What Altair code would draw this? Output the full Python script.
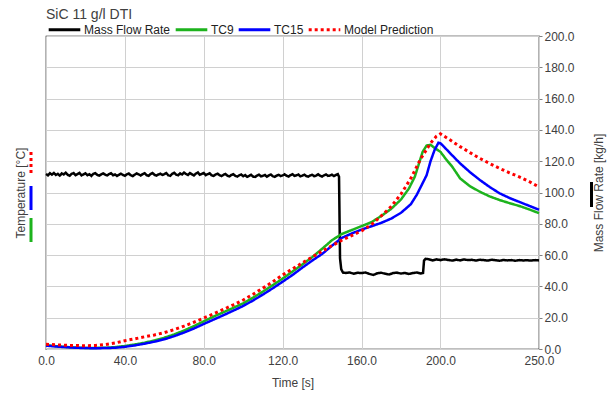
import altair as alt
import pandas as pd

FONT = "Liberation Sans"
series_names = ["Mass Flow Rate", "TC9", "TC15", "Model Prediction"]
series_colors = ["#000000", "#1db31d", "#0000ff", "#ff0000"]
series_dashes = [[1, 0], [1, 0], [1, 0], [3, 3]]

# ---- Mass flow rate [kg/h] ----
mf_t = list(range(0, 149, 1)) + [148.6, 149.1, 149.7, 150.6] + list(range(152, 192, 2)) + \
       [191.2, 191.7, 192.5] + list(range(194, 252, 2))
mf_v = [
    111.8, 111.0, 112.3, 111.4, 112.5, 111.2, 111.9, 110.8, 112.2, 111.5,
    112.6, 111.3, 110.7, 111.9, 112.4, 111.1, 111.8, 112.5, 110.9, 111.6,
    112.3, 111.0, 111.7, 110.6, 111.9, 112.4, 111.2, 110.8, 111.6, 112.2,
    111.4, 110.9, 111.8, 112.3, 111.0, 111.5, 110.6, 111.3, 112.0, 111.2,
    110.7, 111.6, 112.1, 111.0, 110.5, 111.4, 112.2, 111.6, 110.9, 111.7,
    112.3, 111.1, 110.6, 111.8, 112.5, 111.3, 110.8, 111.5, 112.0, 111.2,
    111.7, 112.4, 111.0, 110.7, 111.9, 112.6, 111.4, 111.0, 112.2, 111.5,
    112.7, 111.8, 111.2, 112.4, 111.6, 110.9, 112.1, 112.8, 111.3, 111.9,
    112.5, 111.1, 111.7, 112.3, 111.0, 110.6, 111.5, 112.0, 111.1, 110.5,
    111.3, 111.9, 110.7, 110.3, 111.2, 111.7, 110.6, 110.2, 111.0, 111.5,
    110.4, 111.1, 110.0, 110.6, 111.3, 110.2, 109.9, 110.8, 111.4, 110.3,
    110.7, 111.2, 110.1, 110.9, 111.5, 110.4, 110.0, 110.8, 111.3, 110.5,
    110.9, 111.6, 110.7, 110.2, 111.1, 111.7, 110.6, 111.0, 111.5, 110.3,
    110.8, 111.4, 110.5, 110.1, 110.9, 111.3, 110.4, 110.8, 111.6, 110.7,
    110.2, 111.0, 111.5, 110.6, 110.9, 111.4, 110.5, 111.2, 111.7,
    110.0, 58.0, 51.0, 48.8,
    48.6, 48.9, 48.1, 48.7, 48.5, 48.9, 48.0, 47.3, 48.4, 48.7,
    48.1, 47.6, 48.5, 48.8, 48.2, 48.6, 48.0, 48.5, 48.9, 48.3,
    48.6, 56.5, 57.6,
    57.4, 56.6, 57.3, 56.8, 57.3, 56.9, 56.5, 57.1, 56.6, 57.2,
    56.8, 57.0, 56.5, 57.0, 56.8, 56.5, 57.0, 56.7, 56.4, 56.9,
    56.6, 56.8, 56.4, 56.8, 56.6, 56.7, 56.5, 56.8, 56.6,
]

# ---- TC9 (green) ----
tc9_t = [0, 5, 10, 15, 20, 25, 30, 35, 40, 45, 50, 55, 60, 65, 70, 75, 80, 85, 90, 95,
         100, 105, 110, 115, 120, 125, 130, 135, 140, 145, 150, 155, 160, 165, 170, 175,
         180, 184, 187, 189, 191, 193, 195, 197, 200, 203, 206, 210, 215, 220, 225, 230,
         235, 240, 245, 250]
tc9_v = [2.5, 1.8, 1.3, 0.9, 0.7, 0.7, 0.8, 1.2, 1.9, 2.9, 4.0, 5.5, 7.2, 9.3, 11.8, 14.6,
         17.7, 20.7, 23.5, 26.3, 29.2, 32.8, 36.7, 40.8, 45.0, 49.5, 54.0, 58.7, 64.0, 69.5,
         73.5, 76.0, 78.5, 81.0, 85.0, 89.5, 95.5, 102.5, 110.0, 118.0, 126.0, 130.0, 130.5,
         128.5, 126.0, 121.0, 116.5, 109.0, 104.0, 100.5, 97.5, 95.2, 93.2, 91.4, 89.2, 86.8]

# ---- TC15 (blue) ----
tc15_t = [0, 5, 10, 15, 20, 25, 30, 35, 40, 45, 50, 55, 60, 65, 70, 75, 80, 85, 90, 95,
          100, 105, 110, 115, 120, 125, 130, 135, 140, 145, 150, 155, 160, 165, 170, 175,
          180, 185, 188, 191, 193, 195, 197, 199, 200, 202, 205, 210, 215, 220, 225, 230,
          235, 240, 245, 250]
tc15_v = [2.1, 1.6, 1.2, 0.8, 0.6, 0.5, 0.6, 0.8, 1.4, 2.3, 3.4, 4.7, 6.2, 8.2, 10.5, 13.1,
          16.0, 18.8, 21.6, 24.5, 27.5, 31.0, 34.8, 38.8, 43.0, 47.3, 52.0, 56.5, 60.7, 66.0,
          71.0, 73.8, 76.3, 78.4, 80.6, 83.3, 87.0, 92.5, 98.5, 106.0, 111.0, 120.0, 127.0,
          131.8, 131.5, 129.0, 125.0, 118.6, 113.0, 108.0, 103.5, 99.5, 96.5, 94.0, 91.5, 89.0]

# ---- Model prediction (red dotted) ----
mp_t = [0, 5, 10, 15, 20, 25, 30, 35, 40, 45, 50, 55, 60, 65, 70, 75, 80, 85, 90, 95,
        100, 105, 110, 115, 120, 125, 130, 135, 140, 145, 150, 155, 160, 165, 170, 175,
        180, 185, 190, 195, 198, 200, 205, 210, 215, 220, 225, 230, 235, 240, 245, 250]
mp_v = [3.0, 2.7, 2.4, 2.2, 2.1, 2.3, 2.8, 3.8, 5.3, 6.5, 7.8, 9.0, 10.5, 12.4, 14.6, 17.1,
        19.8, 22.5, 25.3, 28.2, 31.3, 35.0, 38.9, 43.0, 47.3, 51.2, 55.0, 58.8, 62.5, 66.0,
        69.5, 72.5, 75.5, 79.5, 85.0, 91.0, 99.0, 109.0, 121.5, 131.5, 136.0, 137.5, 133.5,
        129.3, 125.5, 121.8, 118.5, 115.4, 112.6, 110.0, 107.0, 103.5]

x_ticks = [0, 40, 80, 120, 160, 200, 250]
y_ticks = list(range(0, 201, 20))

mass_df = pd.DataFrame({"t": mf_t, "v": mf_v, "series": "Mass Flow Rate"})
tc9_df = pd.DataFrame({"t": tc9_t, "v": tc9_v, "series": "TC9"})
tc15_df = pd.DataFrame({"t": tc15_t, "v": tc15_v, "series": "TC15"})
mp_df = pd.DataFrame({"t": mp_t, "v": mp_v, "series": "Model Prediction"})

legend = alt.Legend(
    title=None, orient="none", direction="horizontal", legendX=1, legendY=-24,
    symbolType="stroke", symbolSize=1000, symbolStrokeWidth=3, labelFontSize=12,
    labelFont=FONT, labelColor="#222", labelOffset=2, columnPadding=-2, padding=0,
)
color = alt.Color("series:N", scale=alt.Scale(domain=series_names, range=series_colors), legend=legend)
dash = alt.StrokeDash("series:N", scale=alt.Scale(domain=series_names, range=series_dashes), legend=legend)

x_enc = alt.X("t:Q", scale=alt.Scale(domain=[0, 250], nice=False, zero=False),
              axis=alt.Axis(values=x_ticks, format=".1f", title="Time [s]", grid=True,
                            ticks=False, domain=False, labelFlush=False, labelPadding=6,
                            titlePadding=11))

y_right = alt.Y("v:Q", scale=alt.Scale(domain=[0, 200], nice=False),
                axis=alt.Axis(orient="right", values=y_ticks, format=".1f", grid=True,
                              title="Mass Flow Rate [kg/h]", titleAngle=270, tickSize=3,
                              labelPadding=2, domain=False, titlePadding=31, labelFlush=False))
y_left = alt.Y("v:Q", scale=alt.Scale(domain=[0, 200], nice=False),
               axis=alt.Axis(orient="left", labels=False, ticks=False, grid=False, domain=False,
                             title="Temperature [°C]", titlePadding=19))

mass = alt.Chart(mass_df).mark_line(strokeWidth=2.5).encode(x=x_enc, y=y_right, color=color, strokeDash=dash)

def temp_layer(df, width):
    return alt.Chart(df).mark_line(strokeWidth=width).encode(x=x_enc, y=y_left, color=color, strokeDash=dash)

temps = alt.layer(temp_layer(tc9_df, 2.5), temp_layer(tc15_df, 2.5), temp_layer(mp_df, 3))

one = pd.DataFrame({"k": [0]})
def marker(xp, y1, y2, col, d):
    return alt.Chart(one).mark_rule(color=col, strokeWidth=3, strokeDash=d).encode(
        x=alt.value(xp), y=alt.value(y1), y2=alt.value(y2))

decos = [
    marker(-15, 116, 140, "#ff0000", [3, 3]),
    marker(-15, 150, 174, "#0000ff", [1, 0]),
    marker(-15, 182, 206, "#1db31d", [1, 0]),
    marker(545.5, 146, 171, "#000000", [1, 0]),
]

chart = alt.layer(mass, temps, *decos).resolve_scale(y="independent").properties(
    width=493, height=313,
    padding={"left": 46, "top": 36, "right": 74, "bottom": 45},
    autosize=alt.AutoSizeParams(type="none"),
    title=alt.TitleParams("SiC 11 g/l DTI", anchor="start", frame="group", fontSize=14,
                          fontWeight="normal", color="#404040", font=FONT, offset=3, dy=13),
).configure_view(stroke="#000000", strokeWidth=1.2).configure_axis(
    labelFont=FONT, titleFont=FONT, labelFontSize=12, titleFontSize=12,
    labelColor="#404040", titleColor="#404040", titleFontWeight="normal",
    gridColor="#d0d0d0", gridWidth=1, tickColor="#808080",
)

chart.save("out.html", embed_options={"renderer": "svg", "actions": False})
